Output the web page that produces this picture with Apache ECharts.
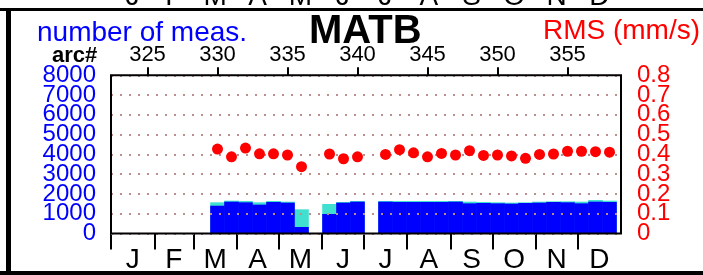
<!DOCTYPE html>
<html>
<head>
<meta charset="utf-8">
<script src="https://cdn.jsdelivr.net/npm/echarts@6/dist/echarts.min.js"></script>
<style>
html,body{margin:0;padding:0;background:#fff;}
#c{width:703px;height:275px;}
</style>
</head>
<body>
<div id="c"></div>
<script>
// ---- data ----
const arcs = [330,331,332,333,334,335,336,338,339,340,342,343,344,345,346,347,348,349,350,351,352,353,354,355,356,357,358];
const totalMeas = [1577,1660,1643,1576,1643,1609,1222,1491,1593,1643,1643,1643,1643,1643,1643,1643,1609,1593,1576,1559,1576,1609,1626,1626,1609,1694,1660];
const usedMeas  = [1405,1609,1576,1458,1593,1559,329,986,1559,1609,1609,1593,1593,1593,1593,1609,1525,1542,1525,1508,1542,1559,1593,1576,1525,1609,1593];
const rms = [0.427,0.388,0.432,0.403,0.403,0.397,0.338,0.402,0.378,0.388,0.400,0.424,0.408,0.388,0.405,0.397,0.419,0.395,0.397,0.392,0.380,0.400,0.402,0.416,0.416,0.414,0.411];
const arcTicks = [325,330,335,340,345,350,355];
const monthLetters = ['J','F','M','A','M','J','J','A','S','O','N','D'];
const monthDays = [31,28,31,30,31,30,31,31,30,31,30,31];
const leftTicks = [0,1000,2000,3000,4000,5000,6000,7000,8000];
const rightTicks = [0,0.1,0.2,0.3,0.4,0.5,0.6,0.7,0.8];

const monthStarts = [];
const monthMids = [];
let acc = 0;
monthDays.forEach(d => { monthStarts.push(acc); monthMids.push(acc + d / 2); acc += d; });
// labels split over two overlaid axes so that ECharts' overlap check keeps them all
const leftEven = leftTicks.filter((v, i) => i % 2 === 0);
const leftOdd = leftTicks.filter((v, i) => i % 2 === 1);
const rightEven = rightTicks.filter((v, i) => i % 2 === 0);
const rightOdd = rightTicks.filter((v, i) => i % 2 === 1);

const FONT = 'Liberation Sans';
const chart = echarts.init(document.getElementById('c'), null, {renderer: 'canvas'});

const gridRect = {left: 111, right: 82, top: 75.3, bottom: 41.5};
const leftLabel = (vals) => ({color: '#0000ff', fontSize: 24, fontFamily: FONT, margin: 15,
  showMinLabel: true, showMaxLabel: true, customValues: vals, formatter: v => String(v)});
const rightLabel = (vals) => ({color: '#ff0000', fontSize: 24, fontFamily: FONT, margin: 16,
  showMinLabel: true, showMaxLabel: true, customValues: vals, formatter: v => String(Math.round(v * 10) / 10)});

const option = {
  animation: false,
  backgroundColor: '#fff',
  title: [
    {text: 'number of meas.', left: 37, top: 19, padding: 0,
     textStyle: {color: '#0000ff', fontSize: 28, fontWeight: 'normal', fontFamily: FONT}},
    {text: 'MATB', left: 309, top: 12, padding: 0,
     textStyle: {color: '#000', fontSize: 40, fontWeight: 'bold', fontFamily: FONT}},
    {text: 'RMS (mm/s)', right: 3, top: 17, padding: 0,
     textStyle: {color: '#ff0000', fontSize: 28, fontWeight: 'normal', fontFamily: FONT}},
    {text: 'arc#', left: 52, top: 45, padding: 0,
     textStyle: {color: '#000', fontSize: 22, fontWeight: 'bold', fontFamily: FONT}}
  ],
  grid: [
    Object.assign({show: true, borderColor: '#000', borderWidth: 2, backgroundColor: 'transparent', z: 6}, gridRect),
    Object.assign({show: false}, gridRect)
  ],
  xAxis: [
    {type: 'value', gridIndex: 0, position: 'top', min: 322.393, max: 358.821,
     axisLine: {show: false, onZero: false},
     axisTick: {show: true, length: 8, customValues: arcTicks, lineStyle: {color: '#000', width: 2}},
     axisLabel: {show: true, customValues: arcTicks, color: '#000', fontSize: 22, fontFamily: FONT, margin: 9},
     splitLine: {show: false}},
    {type: 'value', gridIndex: 0, position: 'bottom', min: 0, max: 365,
     axisLine: {show: false, onZero: false},
     axisTick: {show: true, length: 16, customValues: monthStarts, lineStyle: {color: '#000', width: 2}},
     axisLabel: {show: true, customValues: monthMids, color: '#000', fontSize: 28, fontFamily: FONT, margin: 13,
                 formatter: v => monthLetters[monthMids.indexOf(v)]},
     splitLine: {show: false}},
    {type: 'value', gridIndex: 1, show: false, min: 0, max: 1}
  ],
  yAxis: [
    {type: 'value', gridIndex: 0, position: 'left', min: 0, max: 8000, interval: 1000, z: 3,
     axisLine: {show: false, onZero: false}, axisTick: {show: false},
     axisLabel: leftLabel(leftEven),
     splitLine: {show: true, lineStyle: {color: '#bc8f8f', width: 2, type: [2, 7]}}},
    {type: 'value', gridIndex: 0, position: 'right', min: 0, max: 0.8, interval: 0.1,
     axisLine: {show: false, onZero: false}, axisTick: {show: false},
     axisLabel: rightLabel(rightEven),
     splitLine: {show: false}},
    {type: 'value', gridIndex: 1, position: 'left', min: 0, max: 8000, interval: 1000,
     axisLine: {show: false, onZero: false}, axisTick: {show: false},
     axisLabel: leftLabel(leftOdd),
     splitLine: {show: false}},
    {type: 'value', gridIndex: 1, position: 'right', min: 0, max: 0.8, interval: 0.1,
     axisLine: {show: false, onZero: false}, axisTick: {show: false},
     axisLabel: rightLabel(rightOdd),
     splitLine: {show: false}}
  ],
  series: [
    {type: 'bar', xAxisIndex: 0, yAxisIndex: 0, barWidth: 14.6, barGap: '-100%', z: 2,
     itemStyle: {color: '#40e0d0'},
     data: arcs.map((a, i) => [a, totalMeas[i]])},
    {type: 'bar', xAxisIndex: 0, yAxisIndex: 0, barWidth: 14.6, barGap: '-100%', z: 2,
     itemStyle: {color: '#0000ff'},
     data: arcs.map((a, i) => [a, usedMeas[i]])},
    {type: 'scatter', xAxisIndex: 0, yAxisIndex: 1, symbol: 'circle', symbolSize: 11, z: 10,
     itemStyle: {color: '#ff0000', opacity: 1},
     data: arcs.map((a, i) => [a, rms[i]])}
  ]
};
chart.setOption(option);

// frame and the clipped month letters of the panel above
const graphics = [
  {type: 'rect', shape: {x: 0, y: 8, width: 703, height: 3}, style: {fill: '#000'}, z: 20},
  {type: 'rect', shape: {x: 6, y: 8, width: 5, height: 267}, style: {fill: '#000'}, z: 20},
  {type: 'rect', shape: {x: 0, y: 271, width: 703, height: 4}, style: {fill: '#000'}, z: 20}
];
monthMids.forEach((m, i) => {
  const px = chart.convertToPixel({xAxisIndex: 1}, m);
  graphics.push({type: 'text', x: px, y: -3, z: 15,
    style: {text: monthLetters[i], fill: '#000', font: '28px "' + FONT + '"', align: 'center', verticalAlign: 'middle'}});
});
chart.setOption({graphic: graphics});
</script>
</body>
</html>
